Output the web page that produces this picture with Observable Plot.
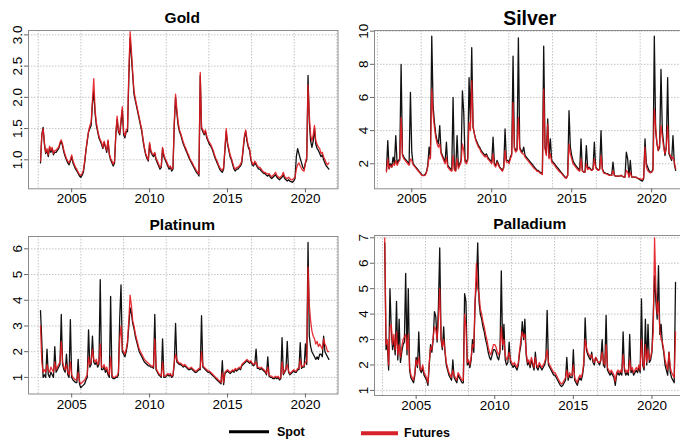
<!DOCTYPE html>
<html><head><meta charset="utf-8">
<script src="https://cdn.jsdelivr.net/npm/d3@7"></script>
<script src="https://cdn.jsdelivr.net/npm/@observablehq/plot@0.6"></script>
<style>
body{margin:0;background:#fff;}
#wrap{position:relative;width:680px;height:441px;overflow:hidden;font-family:"Liberation Sans",Arial,sans-serif;background:#fff;}
.title{position:absolute;font-weight:bold;transform:translate(-50%,-50%);white-space:nowrap;color:#000;}
.leg{position:absolute;font-weight:bold;font-size:12.5px;transform:translateY(-50%);color:#000;}
.legline{position:absolute;height:3.5px;transform:translateY(-50%);}
</style></head><body><div id="wrap"></div>
<script>
// monthly observations, first value = Jan 2003
const startYear = 2003;
const xTickYears = [2005, 2010, 2015, 2020];
// vertical grid at every 1000 days of the R Date axis
const gridDays = [12000, 13000, 14000, 15000, 16000, 17000, 18000, 19000];

const goldTicks = [1.0, 1.5, 2.0, 2.5, 3.0];
const silverTicks = [2, 4, 6, 8, 10];
const platinumTicks = [1, 2, 3, 4, 5, 6];
const palladiumTicks = [1, 2, 3, 4, 5, 6, 7];

const goldSpot = [
 0.95,1.40,1.52,1.25,1.10,1.15,1.05,1.20,1.12,1.18,1.08,1.12,
 1.12,1.15,1.18,1.25,1.30,1.22,1.12,1.05,1.00,0.95,0.92,0.98,
 1.05,0.95,0.90,0.85,0.82,0.78,0.74,0.72,0.75,0.80,0.95,1.15,
 1.30,1.45,1.50,1.55,1.90,2.10,1.75,1.55,1.45,1.35,1.30,1.25,
 1.18,1.28,1.20,1.12,1.30,1.08,1.00,0.95,0.90,0.95,1.40,1.65,
 1.45,1.40,1.60,1.80,1.40,1.35,1.45,1.45,2.30,2.95,2.65,2.35,
 2.05,1.95,1.85,1.75,1.65,1.55,1.45,1.30,1.18,1.08,1.02,0.98,
 1.25,1.12,1.08,1.05,1.10,1.00,0.95,0.90,0.85,0.88,1.18,1.05,
 1.00,0.95,0.90,0.85,0.88,0.82,0.85,1.55,2.00,1.75,1.55,1.45,
 1.40,1.32,1.25,1.20,1.15,1.10,1.05,1.00,0.96,0.92,0.88,0.84,
 0.80,0.78,0.74,2.35,1.50,1.45,1.40,1.45,1.35,1.30,1.25,1.22,
 1.18,1.12,1.05,1.00,0.95,0.90,0.85,0.82,0.80,0.85,1.15,1.45,
 1.25,1.15,1.05,1.00,0.92,0.85,0.82,0.85,0.85,0.88,0.90,0.95,
 1.15,1.35,1.45,1.30,1.20,1.15,1.00,0.92,0.90,0.95,0.92,0.88,
 0.85,0.85,0.82,0.80,0.78,0.78,0.75,0.74,0.76,0.72,0.70,0.72,
 0.74,0.76,0.72,0.70,0.68,0.70,0.72,0.76,0.70,0.68,0.66,0.68,
 0.66,0.65,0.64,0.66,0.70,1.05,1.18,1.10,1.02,0.95,0.88,0.85,
 0.95,1.00,2.35,1.60,1.30,1.20,1.30,1.50,1.25,1.18,1.15,1.10,
 1.05,1.08,1.00,0.95,0.90,0.88,0.85];
const goldFutures = [
 0.98,1.38,1.50,1.28,1.12,1.18,1.08,1.22,1.15,1.20,1.10,1.15,
 1.15,1.18,1.20,1.28,1.32,1.25,1.15,1.08,1.02,0.98,0.95,1.00,
 1.08,0.98,0.93,0.88,0.85,0.80,0.77,0.75,0.78,0.83,0.98,1.15,
 1.32,1.45,1.55,1.60,1.95,2.30,1.80,1.60,1.48,1.38,1.32,1.28,
 1.20,1.30,1.22,1.15,1.32,1.10,1.02,0.98,0.93,0.98,1.42,1.70,
 1.48,1.42,1.65,1.85,1.45,1.38,1.48,1.50,2.40,3.05,2.75,2.40,
 2.10,1.98,1.88,1.78,1.68,1.58,1.48,1.33,1.20,1.10,1.05,1.00,
 1.28,1.15,1.10,1.08,1.12,1.02,0.98,0.93,0.88,0.90,1.20,1.08,
 1.02,0.98,0.93,0.88,0.90,0.85,0.88,1.60,2.05,1.80,1.60,1.48,
 1.42,1.35,1.28,1.22,1.18,1.12,1.08,1.02,0.98,0.95,0.90,0.87,
 0.83,0.80,0.77,2.40,1.52,1.48,1.42,1.48,1.38,1.32,1.28,1.25,
 1.20,1.15,1.08,1.02,0.98,0.92,0.88,0.85,0.83,0.88,1.18,1.50,
 1.28,1.18,1.08,1.02,0.95,0.88,0.85,0.88,0.88,0.90,0.93,0.98,
 1.18,1.38,1.48,1.33,1.22,1.18,1.02,0.95,0.92,0.98,0.95,0.90,
 0.88,0.88,0.85,0.82,0.80,0.80,0.78,0.77,0.78,0.75,0.73,0.75,
 0.77,0.80,0.75,0.73,0.71,0.73,0.75,0.80,0.73,0.71,0.70,0.72,
 0.70,0.68,0.68,0.70,0.72,0.85,0.92,0.95,0.90,0.86,0.83,0.82,
 0.95,1.05,2.20,1.70,1.40,1.30,1.40,1.55,1.30,1.25,1.20,1.18,
 1.10,1.12,1.05,1.00,0.95,0.92,0.95];

const silverSpot = [
 null,null,null,null,null,1.6,3.4,1.7,2.0,1.8,2.4,2.0,
 3.7,2.0,2.2,2.3,8.0,2.6,2.4,2.3,2.2,2.1,2.0,6.3,
 2.7,2.0,1.9,1.8,1.7,1.6,1.5,1.4,1.3,1.3,1.35,1.5,
 1.9,3.0,2.4,9.7,5.5,4.5,3.8,3.4,3.2,4.3,2.7,2.5,
 2.3,2.1,3.3,1.9,1.8,1.7,1.6,6.0,1.7,1.6,3.7,1.8,
 2.0,2.2,6.4,5.1,2.2,2.1,2.3,7.2,4.5,9.0,4.2,3.8,
 3.5,3.3,3.1,3.0,2.8,2.7,2.6,2.5,2.6,2.4,2.3,2.2,
 2.1,3.6,2.0,1.9,2.2,2.0,1.8,1.7,1.6,1.8,4.1,2.2,
 2.2,2.1,2.4,2.6,8.5,3.0,2.8,2.9,9.6,3.0,2.8,2.7,
 3.0,2.5,2.4,2.3,2.2,2.1,2.0,1.9,1.8,1.7,1.6,1.6,
 1.5,1.45,1.4,9.1,3.0,2.6,4.7,2.4,3.5,2.2,2.1,2.0,
 1.9,1.8,1.7,1.6,1.5,1.4,1.3,1.2,1.15,1.3,5.2,3.0,
 2.5,2.2,2.0,1.9,1.8,1.7,1.6,3.5,1.6,1.5,1.5,3.1,
 1.7,1.8,1.7,1.6,1.7,3.3,1.8,1.7,1.6,1.7,4.0,1.7,
 1.5,1.45,1.4,1.4,1.35,1.3,1.3,2.1,1.3,1.25,1.25,1.25,
 1.25,1.3,1.25,1.2,1.2,2.7,2.3,1.2,2.2,1.2,1.2,1.2,
 1.2,1.15,1.1,1.05,1.0,0.95,1.1,3.5,2.0,1.8,1.6,1.5,
 1.5,1.7,9.7,4.0,3.2,2.8,3.0,7.7,4.0,3.2,2.5,3.0,
 7.2,2.6,2.4,2.2,3.7,2.0,1.6];
const silverFutures = [
 null,null,null,null,null,1.5,2.3,1.7,1.9,1.8,2.0,1.9,
 2.2,1.9,2.1,2.2,4.8,2.5,2.3,2.2,2.1,2.0,1.9,2.3,
 2.2,1.95,1.85,1.75,1.65,1.55,1.45,1.35,1.28,1.28,1.3,1.45,
 1.8,2.4,2.3,6.5,5.0,4.2,3.6,3.2,3.0,3.2,2.6,2.4,
 2.2,2.0,2.4,1.8,1.7,1.6,1.55,2.5,1.6,1.55,2.3,1.7,
 1.9,2.1,3.2,2.8,2.1,2.0,2.2,4.5,4.0,7.0,4.3,3.8,
 3.4,3.2,3.0,2.9,2.7,2.6,2.5,2.4,2.5,2.3,2.2,2.1,
 2.0,2.6,1.9,1.8,2.1,1.9,1.75,1.65,1.55,1.75,2.8,2.1,
 2.1,2.0,2.3,2.5,5.7,2.9,2.7,2.8,4.8,2.9,2.7,2.6,
 2.6,2.4,2.3,2.2,2.1,2.0,1.9,1.8,1.7,1.65,1.55,1.55,
 1.45,1.4,1.35,6.5,2.9,2.5,4.4,2.3,2.6,2.1,2.0,1.95,
 1.8,1.7,1.6,1.5,1.45,1.35,1.25,1.15,1.12,1.3,3.2,2.6,
 2.3,2.0,1.9,1.8,1.7,1.6,1.55,2.3,1.55,1.5,1.5,2.0,
 1.65,1.75,1.65,1.6,1.65,2.3,1.75,1.65,1.6,1.65,2.5,1.65,
 1.45,1.4,1.4,1.35,1.3,1.3,1.3,1.6,1.3,1.25,1.25,1.25,
 1.25,1.3,1.25,1.2,1.2,1.6,1.5,1.2,1.5,1.2,1.2,1.2,
 1.2,1.15,1.12,1.1,1.08,1.05,1.15,3.0,1.8,1.6,1.5,1.45,
 1.5,1.6,5.3,4.2,3.2,2.8,3.2,4.3,3.6,3.0,2.6,3.0,
 4.3,2.7,2.5,2.3,2.4,2.1,1.7];

const platinumSpot = [
 3.6,2.4,1.0,1.1,1.0,2.1,1.1,1.0,1.2,1.1,1.0,2.2,
 1.2,1.3,1.4,1.5,3.45,1.5,1.3,1.2,1.9,1.1,1.0,3.25,
 1.0,0.9,0.85,0.8,0.8,1.7,0.75,0.6,0.65,0.7,0.75,0.9,
 1.0,2.85,1.4,1.5,2.6,1.6,1.5,1.6,1.4,1.5,4.8,1.3,
 1.3,1.4,1.2,1.3,1.1,1.0,4.15,1.0,0.95,0.95,1.0,1.0,
 1.1,3.3,4.6,2.0,1.9,1.8,2.0,2.3,3.0,3.7,3.5,3.1,
 2.9,2.6,2.4,2.2,2.0,1.9,1.8,1.7,1.6,1.55,1.5,1.45,
 1.45,1.4,1.4,1.35,3.45,1.3,1.2,1.1,1.05,1.0,2.5,1.0,
 1.0,1.05,1.1,1.05,1.1,1.0,1.05,1.5,3.1,1.6,1.55,1.5,
 1.5,1.45,1.4,1.45,1.4,1.35,1.3,1.3,1.35,1.3,1.25,1.2,
 1.2,1.25,1.3,1.3,3.4,1.4,1.35,1.3,1.25,1.2,1.2,1.15,
 1.1,1.05,1.0,0.95,0.9,0.85,0.8,0.75,1.65,0.72,1.15,1.2,
 1.25,1.2,1.15,1.2,1.25,1.2,1.3,1.25,1.3,1.35,1.3,1.45,
 1.5,1.55,1.6,1.65,1.6,1.55,1.6,1.5,1.45,1.5,2.1,1.35,
 1.35,1.3,1.35,1.3,1.25,1.2,1.1,1.8,1.05,1.0,1.0,0.95,
 0.95,1.0,0.95,1.0,0.9,0.95,2.55,1.1,1.2,1.3,2.4,1.2,
 1.1,1.15,1.2,1.25,1.2,1.2,1.3,1.3,2.35,1.35,1.4,1.4,
 2.3,1.5,6.25,2.6,2.2,2.0,1.9,1.8,1.7,1.8,1.7,1.9,
 1.9,1.8,2.6,2.0,1.9,1.8,1.7];
const platinumFutures = [
 3.0,1.6,1.2,1.3,1.2,1.5,1.3,1.2,1.4,1.3,1.2,1.6,
 1.3,1.4,1.5,1.6,2.4,1.6,1.4,1.3,1.5,1.2,1.1,1.6,
 1.1,1.0,0.95,0.9,0.9,1.2,0.85,0.75,0.8,0.85,0.9,1.0,
 1.1,1.8,1.5,1.6,2.1,1.7,1.6,1.7,1.5,1.6,2.3,1.4,
 1.4,1.5,1.3,1.4,1.2,1.1,1.8,1.1,1.0,1.0,1.05,1.05,
 1.2,2.5,3.0,2.1,2.0,1.9,2.1,2.4,3.2,4.2,3.8,3.2,
 3.0,2.7,2.5,2.3,2.1,2.0,1.9,1.8,1.7,1.65,1.6,1.55,
 1.5,1.45,1.45,1.4,2.5,1.35,1.25,1.15,1.1,1.05,1.6,1.05,
 1.05,1.1,1.15,1.1,1.15,1.05,1.1,1.6,1.9,1.7,1.6,1.55,
 1.55,1.5,1.45,1.5,1.45,1.4,1.35,1.35,1.4,1.35,1.3,1.25,
 1.25,1.3,1.35,1.35,2.0,1.45,1.4,1.35,1.3,1.25,1.25,1.2,
 1.15,1.1,1.05,1.0,0.95,0.9,0.85,0.8,1.2,0.8,1.2,1.25,
 1.3,1.25,1.2,1.25,1.3,1.25,1.35,1.3,1.35,1.4,1.35,1.5,
 1.55,1.6,1.65,1.7,1.65,1.6,1.65,1.55,1.5,1.55,1.6,1.4,
 1.4,1.35,1.4,1.35,1.3,1.25,1.15,1.4,1.1,1.05,1.05,1.0,
 1.0,1.05,1.0,1.05,0.95,1.0,1.6,1.15,1.25,1.35,1.5,1.25,
 1.15,1.2,1.25,1.3,1.25,1.25,1.35,1.35,1.7,1.4,1.45,1.45,
 1.6,1.6,5.3,3.8,3.2,2.8,2.6,2.5,2.3,2.4,2.2,2.3,
 2.2,2.1,2.5,2.3,2.2,2.0,2.0];

const palladiumSpot = [
 6.8,2.6,2.8,1.8,5.0,3.4,2.6,3.0,2.4,4.5,2.2,3.8,
 2.1,2.5,2.8,2.9,5.6,2.4,5.0,1.8,1.5,1.4,1.3,1.6,
 2.3,1.9,3.3,1.8,1.7,1.9,1.6,1.5,1.4,1.2,2.0,2.8,
 2.5,3.0,4.1,3.9,2.9,4.3,6.6,3.0,2.6,3.5,2.5,2.0,
 1.8,1.6,1.5,1.4,2.2,1.5,1.4,1.3,1.6,1.5,1.4,1.3,
 1.3,4.8,4.5,2.0,2.1,1.9,2.2,3.0,2.5,4.5,5.2,6.8,
 4.5,4.0,3.8,3.5,3.3,3.0,2.8,2.5,2.3,2.2,2.4,2.6,
 2.6,2.5,2.3,2.2,2.5,5.7,2.6,3.6,2.2,2.0,2.1,2.9,
 2.1,2.0,1.9,2.0,1.9,1.8,2.0,2.5,2.8,3.7,3.0,3.8,
 2.4,2.0,2.1,1.9,2.2,2.0,1.8,2.5,1.9,1.8,2.0,1.9,
 1.8,1.9,2.0,2.2,4.15,2.0,1.9,1.8,1.7,1.6,1.6,1.5,
 1.4,1.3,1.2,1.15,1.2,1.3,1.4,2.3,1.4,1.6,1.5,1.5,
 2.6,1.4,1.3,1.2,1.4,1.5,1.4,1.6,2.0,3.85,2.6,2.4,
 2.3,2.2,2.5,2.1,2.0,2.3,2.2,2.1,2.0,2.2,3.0,2.0,
 1.9,3.95,1.8,1.7,1.6,1.7,1.6,1.5,1.2,1.6,1.7,1.6,
 1.7,1.6,3.3,1.8,1.6,1.7,1.6,3.2,1.7,1.8,1.6,1.7,
 1.8,1.7,1.9,1.7,4.6,2.0,1.8,3.8,2.0,3.6,2.1,2.2,
 2.5,4.0,5.5,4.5,3.8,5.9,3.2,3.6,2.8,2.5,2.0,1.8,
 1.6,2.5,1.7,1.5,1.4,1.3,5.25];
const palladiumFutures = [
 7.0,2.8,3.0,2.0,3.5,3.6,2.8,3.2,2.6,3.3,2.4,2.8,
 2.3,2.7,3.0,3.1,3.2,2.6,3.2,1.9,1.6,1.5,1.4,1.7,
 2.2,2.0,2.3,1.9,1.8,2.0,1.7,1.6,1.5,1.3,2.1,2.7,
 2.6,3.1,3.5,3.4,3.0,3.8,5.0,3.1,2.7,3.0,2.6,2.1,
 1.9,1.7,1.6,1.5,1.8,1.6,1.5,1.4,1.7,1.6,1.5,1.4,
 1.4,4.0,3.5,2.1,2.2,2.0,2.3,2.8,2.7,4.5,6.0,5.0,
 4.8,4.2,4.0,3.7,3.5,3.2,3.0,2.7,2.5,2.4,2.6,2.8,
 2.8,2.7,2.5,2.4,2.6,3.5,2.8,3.0,2.4,2.2,2.3,2.5,
 2.2,2.1,2.0,2.1,2.0,1.9,2.1,2.6,3.0,3.3,3.1,3.2,
 2.5,2.1,2.2,2.0,2.3,2.1,1.9,2.3,2.0,1.9,2.1,2.0,
 1.9,2.0,2.1,2.3,2.6,2.1,2.0,1.9,1.8,1.7,1.7,1.6,
 1.5,1.4,1.3,1.25,1.3,1.4,1.5,1.8,1.5,1.7,1.6,1.6,
 2.0,1.5,1.4,1.3,1.5,1.6,1.5,1.7,2.1,3.0,2.7,2.5,
 2.4,2.3,2.4,2.2,2.1,2.3,2.2,2.1,2.1,2.2,2.5,2.1,
 2.0,2.8,1.9,1.8,1.7,1.8,1.7,1.6,1.35,1.7,1.8,1.7,
 1.8,1.7,2.4,1.9,1.7,1.8,1.7,2.2,1.8,1.9,1.7,1.8,
 1.9,1.8,2.0,1.8,3.0,2.1,1.9,2.8,2.1,2.6,2.2,2.3,
 2.6,3.3,7.0,5.0,4.0,4.5,3.4,3.0,2.9,2.6,2.2,2.0,
 1.8,2.5,1.9,1.7,1.6,1.5,3.3];

const wrap = document.getElementById("wrap");
const gridYears = gridDays.map(d => 1970 + d / 365.25);

function series(values) {
  const out = [];
  values.forEach((v, i) => { if (v != null) out.push({t: startYear + i / 12, v}); });
  return out;
}

function panel(o) {
  const mL = 32, mT = 14, mB = 26, mR = 2;
  const chart = Plot.plot({
    width: o.boxW + mL + mR, height: o.boxH + mT + mB,
    marginLeft: mL, marginTop: mT, marginBottom: mB, marginRight: mR,
    x: {domain: o.xDomain, label: null},
    y: {domain: o.yDomain, label: null},
    style: {fontFamily: "'Liberation Sans', Arial, sans-serif", fontSize: "13.5px", background: "transparent", color: "#000", overflow: "visible"},
    marks: [
      Plot.ruleY(o.yTicks, {stroke: "#c4c4c4", strokeDasharray: "1.5,1.5"}),
      Plot.ruleX(gridYears.filter(g => g > o.xDomain[0] && g < o.xDomain[1]), {stroke: "#c4c4c4", strokeDasharray: "1.5,1.5"}),
      Plot.line(series(o.spot), {x: "t", y: "v", stroke: "#111", strokeWidth: 1.3, clip: true}),
      Plot.line(series(o.futures), {x: "t", y: "v", stroke: "#e3191f", strokeWidth: 1.3, strokeOpacity: 0.9, clip: true}),
      Plot.frame({stroke: "#8c8c8c"}),
      Plot.axisX(xTickYears, {label: null, tickSize: 4, tickPadding: 1, tickFormat: d => String(d), stroke: "#666"}),
      Plot.axisY(o.yTicks, {label: null, tickSize: 4, tickPadding: 3, tickRotate: -90, tickFormat: o.fmt, stroke: "#666"})
    ]
  });
  chart.style.position = "absolute";
  chart.style.left = (o.left - mL) + "px";
  chart.style.top = (o.top - mT) + "px";
  wrap.appendChild(chart);
  const t = document.createElement("div");
  t.className = "title";
  t.textContent = o.title;
  t.style.left = (o.left + o.boxW / 2) + "px";
  t.style.top = o.titleY + "px";
  t.style.fontSize = o.titleSize + "px";
  wrap.appendChild(t);
}

panel({title: "Gold", titleY: 18, titleSize: 15.5, spot: goldSpot, futures: goldFutures,
  left: 27.5, top: 30, boxW: 309.5, boxH: 158.3,
  xDomain: [2002.23, 2022.09], yDomain: [0.536, 3.07], yTicks: goldTicks, fmt: d3.format(".1f")});
panel({title: "Silver", titleY: 18, titleSize: 19.5, spot: silverSpot, futures: silverFutures,
  left: 373.5, top: 30, boxW: 312.5, boxH: 158.3,
  xDomain: [2002.67, 2022.21], yDomain: [0.49, 10.04], yTicks: silverTicks, fmt: d3.format("d")});
panel({title: "Platinum", titleY: 225, titleSize: 15.5, spot: platinumSpot, futures: platinumFutures,
  left: 27.5, top: 236, boxW: 309.5, boxH: 157.5,
  xDomain: [2002.23, 2022.09], yDomain: [0.354, 6.48], yTicks: platinumTicks, fmt: d3.format("d")});
panel({title: "Palladium", titleY: 224, titleSize: 15.5, spot: palladiumSpot, futures: palladiumFutures,
  left: 373.5, top: 235, boxW: 312.5, boxH: 160,
  xDomain: [2002.35, 2022.23], yDomain: [0.8, 7.09], yTicks: palladiumTicks, fmt: d3.format("d")});

// legend
function legendItem(x1, x2, y, color, label, tx) {
  const l = document.createElement("div");
  l.className = "legline";
  l.style.left = x1 + "px"; l.style.width = (x2 - x1) + "px"; l.style.top = y + "px"; l.style.background = color;
  wrap.appendChild(l);
  const s = document.createElement("div");
  s.className = "leg"; s.textContent = label; s.style.left = tx + "px"; s.style.top = y + "px";
  wrap.appendChild(s);
}
legendItem(229, 269, 431.7, "#000", "Spot", 277);
legendItem(361, 398, 433, "#d8202a", "Futures", 404);
</script></body></html>
